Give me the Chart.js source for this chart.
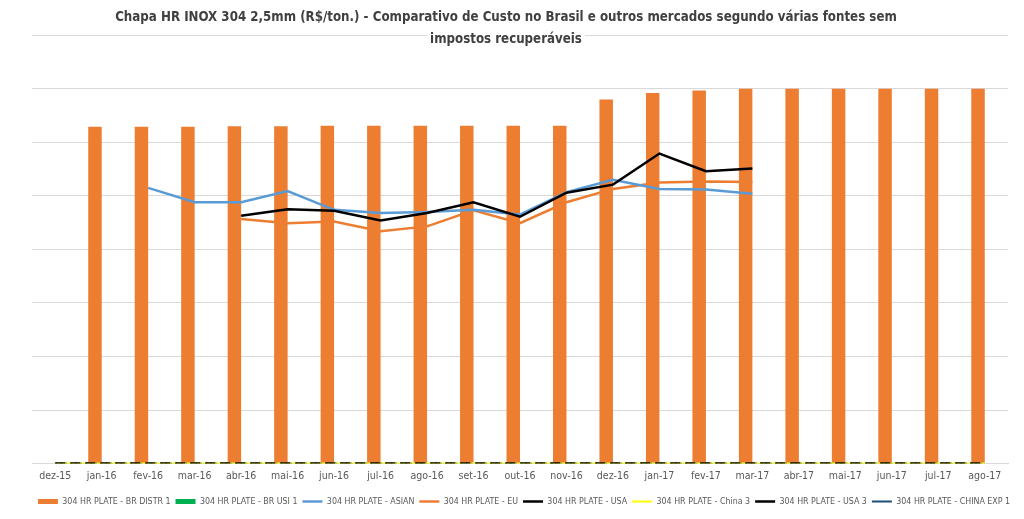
<!DOCTYPE html>
<html>
<head>
<meta charset="utf-8">
<script src="https://cdn.jsdelivr.net/npm/chart.js@4/dist/chart.umd.min.js"></script>
<style>
  html, body { margin: 0; padding: 0; background: #ffffff; }
  #wrap { width: 1024px; height: 519px; position: relative; }
</style>
</head>
<body>
<div id="wrap"><canvas id="c" width="1024" height="519"></canvas></div>
<script>
// ---- data ----
const categories = ['dez-15','jan-16','fev-16','mar-16','abr-16','mai-16','jun-16','jul-16','ago-16','set-16','out-16','nov-16','dez-16','jan-17','fev-17','mar-17','abr-17','mai-17','jun-17','jul-17','ago-17'];
const titleLines = ['Chapa HR INOX 304 2,5mm (R$/ton.) - Comparativo de Custo no Brasil e outros mercados segundo várias fontes sem', 'impostos recuperáveis'];
const brDistr1 = [0, 12580, 12580, 12580, 12600, 12600, 12620, 12620, 12620, 12620, 12620, 12620, 13600, 13840, 13940, 14000, 14000, 14000, 14000, 14000, 14000];
const brUsi1   = [0,0,0,0,0,0,0,0,0,0,0,0,0,0,0,0,0,0,0,0,0];
const asian    = [null, null, 10300, 9760, 9760, 10180, 9480, 9360, 9400, 9480, 9300, 10140, 10600, 10260, 10240, 10080, null, null, null, null, null];
const eu       = [null, null, null, null, 9140, 8980, 9040, 8680, 8860, 9460, 8980, 9760, 10260, 10500, 10540, 10520, null, null, null, null, null];
const usa      = [null, null, null, null, 9260, 9500, 9440, 9080, 9360, 9760, 9220, 10120, 10420, 11580, 10920, 11020, null, null, null, null, null];
const china3   = [0,0,0,0,0,0,0,0,0,0,0,0,0,0,0,0,0,0,0,0,0];
const usa3     = [0,0,0,0,0,0,0,0,0,0,0,0,0,0,0,0,0,0,0,0,0];
const chinaExp1= [0,0,0,0,0,0,0,0,0,0,0,0,0,0,0,0,0,0,0,0,0];
const yMax = 16000;
const yStep = 2000;

const FONT = "'Liberation Sans Narrow', 'DejaVu Sans Condensed', 'Liberation Sans', sans-serif";

// Shift title / legend horizontally to match original centring
const boxShift = {
  id: 'boxShift',
  afterLayout(chart) {
    if (chart.titleBlock) { chart.titleBlock.left -= 6; chart.titleBlock.right -= 6; }
    if (chart.legend) { chart.legend.left += 12; chart.legend.right += 12; }
  }
};

// Repaint title over a white background so the top gridline is interrupted (as in the original)
const titleBackdrop = {
  id: 'titleBackdrop',
  beforeDatasetsDraw(chart) {
    const tb = chart.titleBlock;
    if (!tb) return;
    const ctx = chart.ctx;
    const f = tb.options.font;
    const cx = (tb.left + tb.right) / 2;
    ctx.save();
    ctx.font = `bold ${f.size}px ${f.family}`;
    const w = ctx.measureText(titleLines[1]).width;
    ctx.fillStyle = '#ffffff';
    ctx.fillRect(0, 0, chart.width, 28);
    ctx.fillRect(cx - w / 2 - 3, 28, w + 6, 20);
    ctx.restore();
    tb.draw(chart.chartArea);
  }
};

const ctx = document.getElementById('c').getContext('2d');
new Chart(ctx, {
  data: {
    labels: categories,
    datasets: [
      { type: 'bar', label: '304 HR PLATE - BR DISTR 1', data: brDistr1, backgroundColor: '#ED7D31', borderWidth: 0, order: 2, pointStyle: 'rect' },
      { type: 'bar', label: '304 HR PLATE - BR USI 1', data: brUsi1, backgroundColor: '#00B050', borderWidth: 0, order: 2, pointStyle: 'rect' },
      { type: 'line', label: '304 HR PLATE - ASIAN', data: asian, borderColor: '#5B9BD5', backgroundColor: '#5B9BD5', borderWidth: 2.5, pointRadius: 0, pointStyle: 'line', tension: 0, order: 1 },
      { type: 'line', label: '304 HR PLATE - EU', data: eu, borderColor: '#ED7D31', backgroundColor: '#ED7D31', borderWidth: 2.5, pointRadius: 0, pointStyle: 'line', tension: 0, order: 1 },
      { type: 'line', label: '304 HR PLATE - USA', data: usa, borderColor: '#000000', backgroundColor: '#000000', borderWidth: 2.5, pointRadius: 0, pointStyle: 'line', tension: 0, order: 0 },
      { type: 'line', label: '304 HR PLATE - China 3', data: china3, borderColor: '#FFFF00', backgroundColor: '#FFFF00', borderWidth: 2, pointRadius: 0, pointStyle: 'line', tension: 0, order: 1 },
      { type: 'line', label: '304 HR PLATE - USA 3', data: usa3, borderColor: '#000000', backgroundColor: '#000000', borderWidth: 2.5, borderDash: [10, 5], pointRadius: 0, pointStyle: 'line', tension: 0, order: 0 },
      { type: 'line', label: '304 HR PLATE - CHINA EXP 1', data: chinaExp1, borderColor: '#1F4E79', backgroundColor: '#1F4E79', borderWidth: 2, borderDash: [2, 3], pointRadius: 0, pointStyle: 'line', tension: 0, order: 1 }
    ]
  },
  options: {
    responsive: false,
    animation: false,
    layout: { padding: { left: 16, right: 16, top: 0, bottom: 3 } },
    datasets: { bar: { categoryPercentage: 0.58, barPercentage: 1.0 } },
    scales: {
      x: {
        offset: true,
        grid: { display: false, drawTicks: false },
        border: { display: true, color: '#d9d9d9', width: 1 },
        ticks: { color: '#595959', font: { family: FONT, size: 10.5 }, maxRotation: 0, autoSkip: false, padding: 6 },
        afterFit(scale) { scale.height += 4; }
      },
      y: {
        min: 0, max: yMax,
        grid: { color: '#d9d9d9', drawTicks: false },
        border: { display: false },
        ticks: { display: false, stepSize: yStep },
        afterFit(scale) { scale.width = 16; }
      }
    },
    plugins: {
      title: {
        display: true,
        text: titleLines,
        color: '#404040',
        font: { family: FONT, size: 13.2, weight: 'bold', lineHeight: 1.6 },
        padding: { top: 7.5, bottom: -14.5 }
      },
      legend: {
        position: 'bottom',
        labels: {
          color: '#595959',
          font: { family: FONT, size: 8.8 },
          usePointStyle: true,
          pointStyleWidth: 20,
          boxHeight: 5,
          padding: 5,
          sort: (a, b) => a.datasetIndex - b.datasetIndex
        }
      },
      tooltip: { enabled: false }
    }
  },
  plugins: [boxShift, titleBackdrop]
});
</script>
</body>
</html>
